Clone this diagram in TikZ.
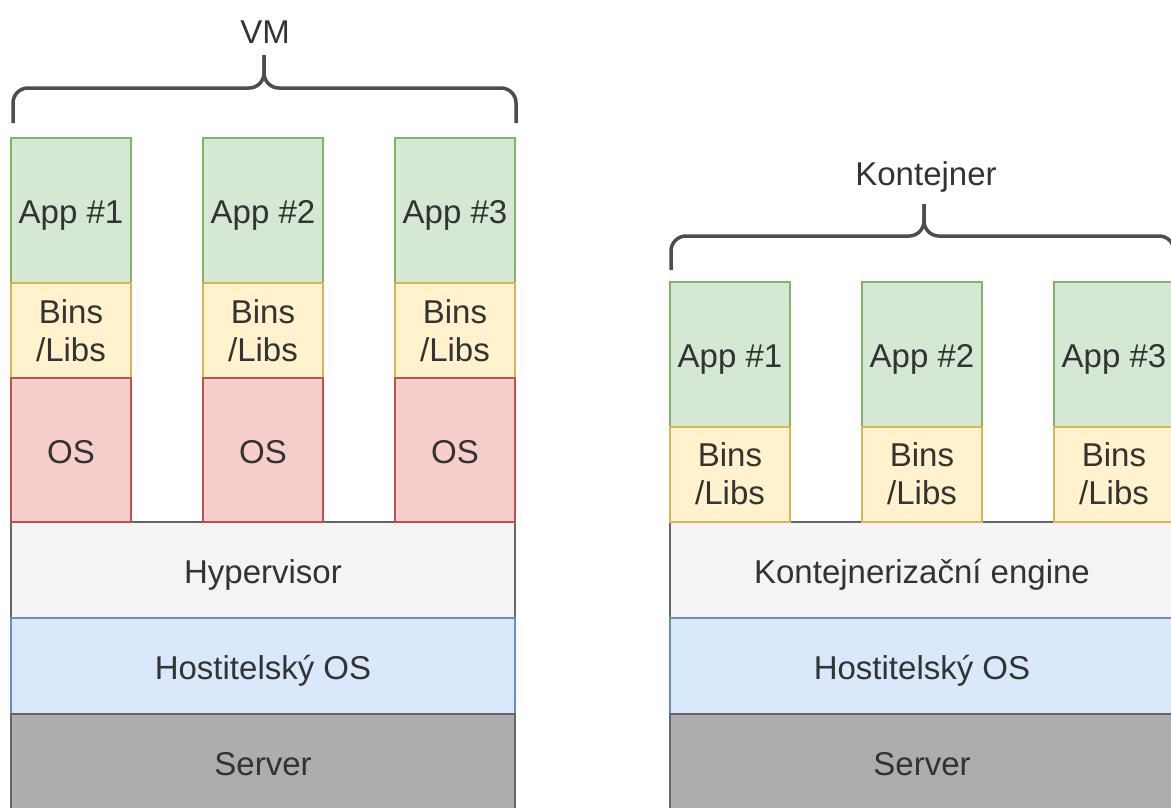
\documentclass[tikz,border=0pt]{standalone}
\usepackage{fontspec}
\setmainfont{Liberation Sans}
\definecolor{txt}{HTML}{333333}
\definecolor{appfill}{HTML}{D5E8D4}\definecolor{appline}{HTML}{82B366}
\definecolor{binfill}{HTML}{FFF2CC}\definecolor{binline}{HTML}{D6B656}
\definecolor{osfill}{HTML}{F8CECC}\definecolor{osline}{HTML}{B85450}
\definecolor{hvfill}{HTML}{F4F4F4}\definecolor{hvline}{HTML}{666666}
\definecolor{hostfill}{HTML}{DAE8FC}\definecolor{hostline}{HTML}{6C8EBF}
\definecolor{srvfill}{HTML}{ADADAD}
\definecolor{brace}{HTML}{4D4D4D}
\tikzset{
  blk/.style={draw, line width=2pt, inner sep=0pt, align=center, text=txt,
    font=\fontsize{33}{38}\selectfont, minimum width=120pt},
  oneline/.style={text height=26pt, text depth=0pt},
  appbox/.style={blk, oneline, fill=appfill, draw=appline, minimum height=145pt},
  binbox/.style={blk, fill=binfill, draw=binline, minimum height=95pt},
  osbox/.style={blk, oneline, fill=osfill, draw=osline, minimum height=144pt},
  layer/.style={blk, oneline, minimum width=504pt, minimum height=96pt},
  hvbox/.style={layer, fill=hvfill, draw=hvline},
  hostbox/.style={layer, fill=hostfill, draw=hostline},
  srvbox/.style={layer, fill=srvfill, draw=hvline},
  bracket/.style={draw=brace, line width=3.5pt, rounded corners=15pt},
  title/.style={text=txt, font=\fontsize{33}{38}\selectfont}
}
\begin{document}
\begin{tikzpicture}[x=1pt, y=-1pt]
\useasboundingbox (0,0) rectangle (1171,807);
\clip (0,0) rectangle (1171,807);

% ---- virtual machines ----
\node[hvbox]   (hv)    at (263,570) {Hypervisor};
\node[hostbox] (hostL) at (263,666) {Hostitelský OS};
\node[srvbox]  (srvL)  at (263,762) {Server};
\foreach \i/\x in {1/71, 2/263, 3/455} {
  \node[appbox] (vapp\i) at (\x,210.5) {App \#\i};
  \node[binbox] (vbin\i) at (\x,330.5) {Bins\\/Libs};
  \node[osbox]  (vos\i)  at (\x,450)   {OS};
}
\coordinate (vmL) at (13,123);
\coordinate (vmR) at (516,123);
\coordinate (vmTip) at (264,55);
\draw[bracket] (vmL) |- (264,88) -- (vmTip);
\draw[bracket] (vmR) |- (264,88) -- (vmTip);
\node[title] (vm) at (265,32) {VM};

% ---- containers ----
\node[hvbox]   (eng)   at (922,570) {Kontejnerizační engine};
\node[hostbox] (hostR) at (922,666) {Hostitelský OS};
\node[srvbox]  (srvR)  at (922,762) {Server};
\foreach \i/\x in {1/730, 2/922, 3/1114} {
  \node[appbox] (capp\i) at (\x,354) {App \#\i};
  \node[binbox] (cbin\i) at (\x,474) {Bins\\/Libs};
}
\coordinate (ctL) at (671,270);
\coordinate (ctR) at (1174,270);
\coordinate (ctTip) at (924,204);
\draw[bracket] (ctL) |- (924,236) -- (ctTip);
\draw[bracket] (ctR) |- (924,236) -- (ctTip);
\node[title] (ct) at (926,177) {Kontejner};
\end{tikzpicture}
\end{document}
